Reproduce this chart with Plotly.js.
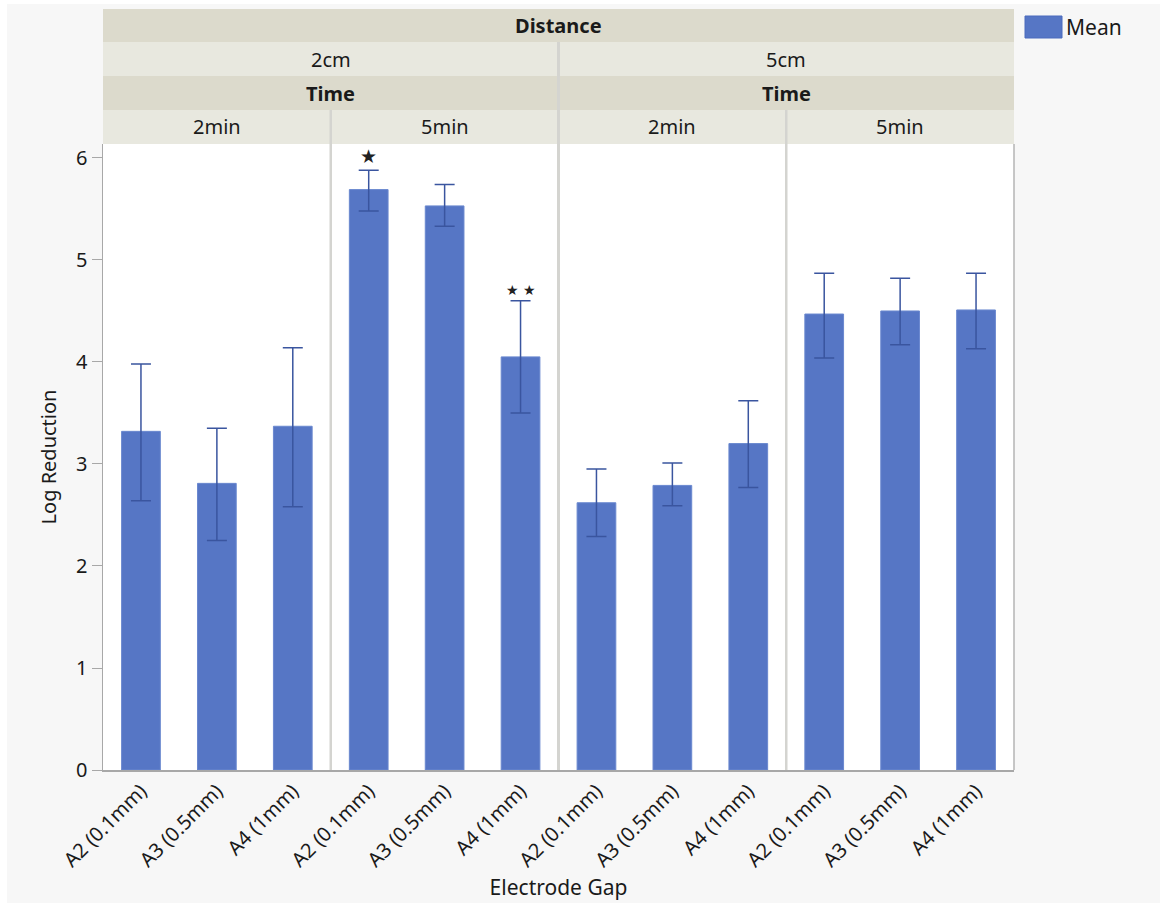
<!DOCTYPE html>
<html>
<head>
<meta charset="utf-8">
<script src="https://cdn.plot.ly/plotly-3.0.1.min.js"></script>
<style>
  html, body { margin: 0; padding: 0; background: #ffffff; }
  #chart { width: 1160px; height: 903px; }
</style>
</head>
<body>
<div id="chart"></div>
<script>
// Electrode gap levels, repeated in every Distance x Time panel
const gaps = ["A2 (0.1mm)", "A3 (0.5mm)", "A4 (1mm)",
              "A2 (0.1mm)", "A3 (0.5mm)", "A4 (1mm)",
              "A2 (0.1mm)", "A3 (0.5mm)", "A4 (1mm)",
              "A2 (0.1mm)", "A3 (0.5mm)", "A4 (1mm)"];
const distances = ["2cm", "5cm"];
const times = ["2min", "5min"];

// Mean log reduction with upper / lower error-bar ends
const meanLR  = [3.32, 2.81, 3.37, 5.69, 5.53, 4.05, 2.62, 2.79, 3.20, 4.47, 4.50, 4.51];
const upperLR = [3.98, 3.35, 4.14, 5.88, 5.74, 4.60, 2.95, 3.01, 3.62, 4.87, 4.82, 4.87];
const lowerLR = [2.64, 2.25, 2.58, 5.48, 5.33, 3.50, 2.29, 2.59, 2.77, 4.04, 4.17, 4.13];

// Significance marks placed above the error bars
const sigIndex = [3, 5];
const sigText  = ["★", "★ ★"];

const xIdx = gaps.map((_, i) => i);
const errPlus  = meanLR.map((m, i) => +(upperLR[i] - m).toFixed(3));
const errMinus = meanLR.map((m, i) => +(m - lowerLR[i]).toFixed(3));

// plot-area geometry in pixels
const PL = 103, PR = 1014, PT = 144, PB = 770, W = 1160, H = 903;
const py = p => (PB - p) / (PB - PT);          // pixel y -> paper y
const px = p => (p - PL) / (PR - PL);          // pixel x -> paper x

const DARK = "#dcdacc", LIGHT = "#e8e8df", SEP = "#d4d4d0";
const FONT = "'Segoe UI', 'Noto Sans', 'Open Sans', sans-serif";
const INK = "#1a1a1a";

const shapes = [];
const annotations = [];

// outer grey panel behind everything (thin white edge top/left)
shapes.push({type: "rect", xref: "paper", yref: "paper",
  x0: px(7), x1: px(W), y0: py(H), y1: py(4),
  fillcolor: "#f7f7f7", line: {width: 0}, layer: "below"});
// white plotting area
shapes.push({type: "rect", xref: "paper", yref: "paper",
  x0: 0, x1: 1, y0: 0, y1: 1, fillcolor: "#ffffff", line: {width: 0}, layer: "below"});

function headerCell(x0, x1, top, bot, fill, text, bold) {
  shapes.push({type: "rect", xref: "x", yref: "paper",
    x0: x0, x1: x1, y0: py(bot), y1: py(top), fillcolor: fill, line: {width: 0}, layer: "above"});
  annotations.push({xref: "x", yref: "paper", x: (x0 + x1) / 2, y: py((top + bot) / 2),
    text: bold ? "<b>" + text + "</b>" : text, showarrow: false,
    xanchor: "center", yanchor: "middle",
    font: {family: FONT, size: bold ? 20 : 20, color: INK}});
}

// header rows: Distance / level / Time / level
headerCell(-0.5, 11.5, 9, 42, DARK, "Distance", true);
distances.forEach((d, j) => {
  const x0 = -0.5 + 6 * j, x1 = x0 + 6;
  headerCell(x0, x1, 42, 76, LIGHT, d, false);
  headerCell(x0, x1, 76, 110, DARK, "Time", true);
  times.forEach((t, k) => {
    const a = x0 + 3 * k;
    headerCell(a, a + 3, 110, 144, LIGHT, t, false);
  });
});

// panel separators
shapes.push({type: "line", xref: "x", yref: "paper", x0: 5.5, x1: 5.5,
  y0: 0, y1: py(42), line: {color: SEP, width: 3}, layer: "above"});
[2.5, 8.5].forEach(v => shapes.push({type: "line", xref: "x", yref: "paper", x0: v, x1: v,
  y0: 0, y1: py(110), line: {color: SEP, width: 2.5}, layer: "above"}));

// plot frame
shapes.push({type: "line", xref: "paper", yref: "paper", x0: 1, x1: 1, y0: 0, y1: 1,
  line: {color: "#b4b4b4", width: 1.5}});

// significance marks
sigIndex.forEach((i, k) => annotations.push({xref: "x", yref: "y", x: i, y: upperLR[i],
  text: sigText[k], showarrow: false, yanchor: "bottom", yshift: 1,
  font: {family: "DejaVu Sans", size: sigText[k].length > 1 ? 14 : 19, color: "#222"}}));

// legend swatch
shapes.push({type: "rect", xref: "paper", yref: "paper",
  x0: px(1025), x1: px(1062), y0: py(38), y1: py(16),
  fillcolor: "#5676c5", line: {color: "#4b6bbd", width: 1}});
annotations.push({xref: "paper", yref: "paper", x: px(1064), y: py(27), text: "Mean",
  showarrow: false, xanchor: "left", yanchor: "middle",
  font: {family: FONT, size: 21, color: INK}});

const trace = {
  type: "bar", x: xIdx, y: meanLR, width: 0.51,
  marker: {color: "#5676c5", line: {color: "#6a88cf", width: 1}},
  error_y: {type: "data", symmetric: false, array: errPlus, arrayminus: errMinus,
            color: "#3a559f", thickness: 1.5, width: 10},
  showlegend: false, hoverinfo: "x+y"
};

const layout = {
  width: W, height: H,
  margin: {l: PL, r: W - PR, t: PT, b: H - PB, pad: 0},
  paper_bgcolor: "#ffffff", plot_bgcolor: "rgba(0,0,0,0)",
  font: {family: FONT, color: INK},
  showlegend: false,
  xaxis: {
    range: [-0.5, 11.5], tickmode: "array", tickvals: xIdx, ticktext: gaps,
    tickangle: -45, ticks: "", showgrid: false, zeroline: false,
    showline: true, linecolor: "#a8a8a8", linewidth: 1.5,
    tickfont: {family: FONT, size: 20, color: INK},
    title: {text: "Electrode Gap", font: {family: FONT, size: 21, color: INK}, standoff: 2},
    fixedrange: true
  },
  yaxis: {
    range: [0, 6.137], tickvals: [0, 1, 2, 3, 4, 5, 6],
    ticks: "outside", ticklen: 10, tickcolor: "#a8a8a8", tickwidth: 1,
    showgrid: false, zeroline: false, showline: true, linecolor: "#a8a8a8", linewidth: 1.5,
    tickfont: {family: FONT, size: 20, color: INK},
    title: {text: "Log Reduction", font: {family: FONT, size: 20, color: INK}, standoff: 14},
    fixedrange: true
  },
  shapes: shapes,
  annotations: annotations
};

Plotly.newPlot("chart", [trace], layout, {displayModeBar: false, staticPlot: true});
</script>
</body>
</html>
